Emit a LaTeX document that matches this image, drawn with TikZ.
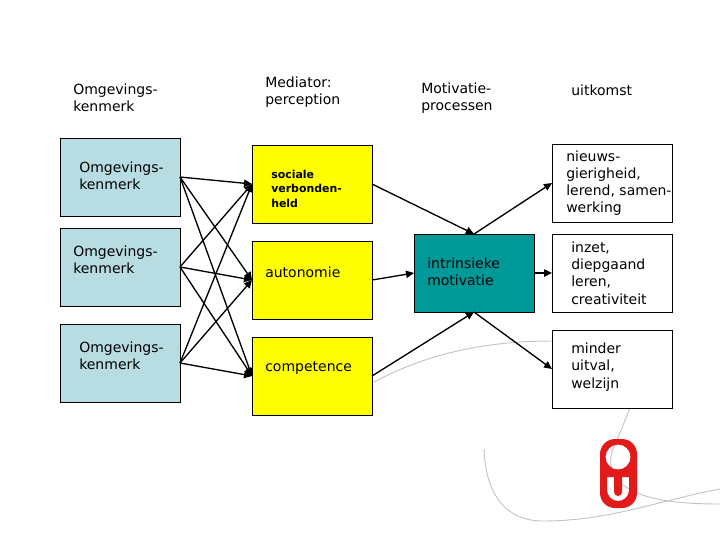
\documentclass[tikz,border=0pt]{standalone}
\usepackage{fontspec}
\setmainfont{DejaVu Sans}
\usetikzlibrary{positioning, arrows.meta}
\definecolor{envblue}{RGB}{183,221,226}
\definecolor{medyellow}{RGB}{255,255,0}
\definecolor{motteal}{RGB}{0,153,153}
\definecolor{logored}{RGB}{226,26,26}
\definecolor{swoosh}{RGB}{195,195,195}

\begin{document}
\begin{tikzpicture}[
    x=0.75pt, y=-0.75pt,
    block/.style={rectangle, draw, line width=0.75pt, minimum height=58.5pt, minimum width=90pt, outer sep=0pt, inner sep=0pt},
    boxtext/.style={anchor=west, align=left, inner sep=0pt, font=\fontsize{10.5}{12.9}\selectfont},
    arrow/.style={-{Triangle[length=6pt, width=5.5pt]}, line width=1pt},
    swooshline/.style={draw=swoosh, line width=0.7pt}
]
\useasboundingbox (0,0) rectangle (720,540);

% === BACKGROUND LINES ===
\draw[swooshline] (374,382) .. controls (430,352) and (490,341) .. (552,341);
\draw[swooshline] (484,449) .. controls (486,500) and (510,521) .. (543,521) .. controls (610,521) and (660,500) .. (720,489);
\draw[swooshline] (630,408) -- (617,440) .. controls (606,460) and (610,475) .. (623,485) .. controls (640,498) and (670,504) .. (720,504);

% === ENVIRONMENT COLUMN ===
\node[block, fill=envblue] (env1) at (120,177) {};
\node[block, below=9pt of env1, fill=envblue] (env2) {};
\node[block, below=13.5pt of env2, fill=envblue] (env3) {};

% === MEDIATOR COLUMN ===
\node[block, right=54pt of env1, yshift=-5.25pt, fill=medyellow] (soc) {};
\node[block, below=13.5pt of soc, fill=medyellow] (aut) {};
\node[block, below=13.5pt of aut, fill=medyellow] (com) {};

% === MOTIVATION ===
\node[block, right=31.5pt of aut, yshift=5.25pt, fill=motteal] (mot) {};

% === OUTCOME COLUMN ===
\node[block, right=13.5pt of mot, fill=white] (out2) {};
\node[block, above=9pt of out2, fill=white] (out1) {};
\node[block, below=13.5pt of out2, fill=white] (out3) {};

% Environment to mediator
\draw[arrow] (env1.east) -- (soc.west);
\draw[arrow] (env1.east) -- (aut.west);
\draw[arrow] (env1.east) -- (com.west);
\draw[arrow] (env2.east) -- (soc.west);
\draw[arrow] (env2.east) -- (aut.west);
\draw[arrow] (env2.east) -- (com.west);
\draw[arrow] (env3.east) -- (soc.west);
\draw[arrow] (env3.east) -- (aut.west);
\draw[arrow] (env3.east) -- (com.west);

% Mediator to motivation
\draw[arrow] (soc.east) -- (mot.north);
\draw[arrow] (aut.east) -- (mot.west);
\draw[arrow] (com.east) -- (mot.south);

% Motivation to outcome
\draw[arrow] (mot.north) -- (out1.west);
\draw[arrow] (mot.east) -- (out2.west);
\draw[arrow] (mot.south) -- (out3.west);

% === COLUMN HEADINGS ===
\node[boxtext] (head1) at (73,98) {Omgevings-\\kenmerk};
\node[boxtext] (head2) at (265,92) {Mediator:\\perception};
\node[boxtext] (head3) at (421,98) {Motivatie-\\processen};
\node[boxtext] (head4) at (571,90) {uitkomst};

% === BOX TEXTS ===
\node[boxtext] (env1txt) at (79,176) {Omgevings-\\kenmerk};
\node[boxtext] (env2txt) at (73,260) {Omgevings-\\kenmerk};
\node[boxtext] (env3txt) at (79,356) {Omgevings-\\kenmerk};
\node[boxtext, font=\fontsize{8.2}{10.9}\selectfont\bfseries] (soctxt) at (271,188.5) {sociale\\verbonden-\\held};
\node[boxtext] (auttxt) at (265,272) {autonomie};
\node[boxtext] (comtxt) at (265,368) {competence};
\node[boxtext] (mottxt) at (427,272) {intrinsieke\\motivatie};
\node[boxtext] (out1txt) at (566,183) {nieuws-\\gierigheid,\\lerend, samen-\\werking};
\node[boxtext] (out2txt) at (571,273) {inzet,\\diepgaand\\leren,\\creativiteit};
\node[boxtext] (out3txt) at (571,367) {minder\\uitval,\\welzijn};

% === LOGO ===
\fill[logored, even odd rule] [rounded corners=11.25pt] (600,439) rectangle (637,508)
  [sharp corners] (618,457) circle[radius=12.5]
  (607,477) -- (607,490) arc[start angle=180, end angle=0, x radius=11, y radius=11] -- (629,477) -- cycle;
\fill[logored] (614,477) -- (614,492) arc[start angle=180, end angle=0, x radius=4, y radius=4] -- (622,477) -- cycle;

\end{tikzpicture}
\end{document}
